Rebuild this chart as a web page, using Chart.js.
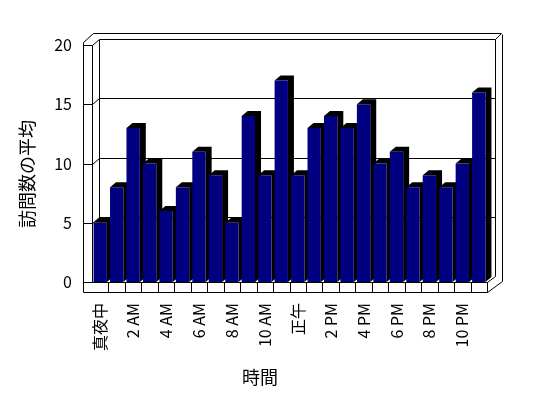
<!DOCTYPE html>
<html>
<head>
<meta charset="utf-8">
<script src="https://cdn.jsdelivr.net/npm/chart.js@4.4.1/dist/chart.umd.min.js"></script>
<style>
  html, body { margin: 0; padding: 0; background: #fff; }
  #chartContainer { width: 548px; height: 398px; }
</style>
</head>
<body>
<div id="chartContainer"><canvas id="visitsChart" width="548" height="398"></canvas></div>
<script>
const hours = [
  '真夜中', '1 AM', '2 AM', '3 AM', '4 AM', '5 AM', '6 AM', '7 AM', '8 AM', '9 AM', '10 AM', '11 AM',
  '正午', '1 PM', '2 PM', '3 PM', '4 PM', '5 PM', '6 PM', '7 PM', '8 PM', '9 PM', '10 PM', '11 PM',
];
const avgVisits = [5, 8, 13, 10, 6, 8, 11, 9, 5, 14, 9, 17, 9, 13, 14, 13, 15, 10, 11, 8, 9, 8, 10, 16];
const yTicks = [0, 5, 10, 15, 20];
const yTitle = '訪問数の平均';
const xTitle = '時間';

const FONT = '"Noto Sans CJK JP", "Noto Sans", sans-serif';

// oblique offsets for the walls and for the bar depth
const WALL_DX = 7, WALL_DY = 6;
const BAR_DX = 6, BAR_DY = 5;

const px = v => Math.round(v) + 0.5;

const line = (ctx, x1, y1, x2, y2) => {
  ctx.beginPath();
  ctx.moveTo(px(x1), px(y1));
  ctx.lineTo(px(x2), px(y2));
  ctx.stroke();
};

const frame3d = {
  id: 'frame3d',
  beforeDatasetsDraw(chart) {
    const { ctx } = chart;
    const xs = chart.scales.x;
    const ys = chart.scales.y;
    const L = xs.left, R = xs.right;
    const T = ys.getPixelForValue(yTicks[yTicks.length - 1]);
    const B = ys.getPixelForValue(yTicks[0]);
    const catW = (R - L) / hours.length;

    ctx.save();
    ctx.strokeStyle = '#000';
    ctx.lineWidth = 1;

    // left wall (front edge + inner edge)
    line(ctx, L - 9, T - 3, L - 9, B + 10);
    line(ctx, L, T, L, B);
    line(ctx, L - 9, T - 3, L + 1, T - WALL_DY - 6);
    line(ctx, L, T, L + WALL_DX, T - WALL_DY);

    // back wall inner and outer outline
    line(ctx, L + WALL_DX, T - WALL_DY, R + WALL_DX + 1, T - WALL_DY);
    line(ctx, L + WALL_DX, T - WALL_DY, L + WALL_DX, B - WALL_DY);
    line(ctx, R + WALL_DX + 1, T - WALL_DY, R + WALL_DX + 1, B - WALL_DY);
    line(ctx, L + 1, T - WALL_DY - 6, R + WALL_DX + 7, T - WALL_DY - 6);
    line(ctx, R + WALL_DX + 1, T - WALL_DY, R + WALL_DX + 7, T - WALL_DY - 6);
    line(ctx, R + WALL_DX + 8, T - WALL_DY - 5, R + WALL_DX + 8, B - 1);

    // value ticks on the left wall and gridlines on the back wall
    yTicks.forEach(v => {
      const y = ys.getPixelForValue(v);
      line(ctx, L - 9, y, L, y);
      if (v > yTicks[0] && v < yTicks[yTicks.length - 1]) {
        line(ctx, L, y, L + WALL_DX, y - WALL_DY);
        line(ctx, L + WALL_DX, y - WALL_DY, R + WALL_DX + 1, y - WALL_DY);
      }
    });

    // floor slab
    line(ctx, L - 9, B + 10, R, B + 10);
    line(ctx, L, B, R, B);
    line(ctx, R, B, R, B + 10);
    line(ctx, R, B, R + WALL_DX + 1, B - WALL_DY);
    line(ctx, R, B + 10, R + WALL_DX + 8, B - 1);
    for (let i = 1; i < hours.length; i++) {
      const x = L + i * catW;
      line(ctx, x, B, x, B + 10);
    }

    // black depth faces of the bars
    ctx.fillStyle = '#000';
    chart.getDatasetMeta(0).data.forEach(bar => {
      const { x, y, base, width } = bar.getProps(['x', 'y', 'base', 'width'], true);
      const x0 = x - width / 2;
      const x1 = x + width / 2;
      ctx.beginPath();
      ctx.moveTo(x0, y);
      ctx.lineTo(x0 + BAR_DX, y - BAR_DY);
      ctx.lineTo(x1 + BAR_DX, y - BAR_DY);
      ctx.lineTo(x1 + BAR_DX, base - BAR_DY);
      ctx.lineTo(x1, base);
      ctx.lineTo(x1, y);
      ctx.closePath();
      ctx.fill();
    });
    ctx.restore();
  },
  afterDraw(chart) {
    const { ctx } = chart;
    ctx.save();
    ctx.fillStyle = '#000';
    ctx.font = '18px ' + FONT;
    ctx.textAlign = 'center';
    ctx.textBaseline = 'middle';
    ctx.fillText(xTitle, 260, 377);
    ctx.translate(27, 174);
    ctx.rotate(-Math.PI / 2);
    ctx.fillText(yTitle, 0, 0);
    ctx.restore();
  },
};

const ctx = document.getElementById('visitsChart').getContext('2d');

new Chart(ctx, {
  type: 'bar',
  data: {
    labels: hours,
    datasets: [
      {
        label: yTitle,
        data: avgVisits,
        backgroundColor: '#000080',
        borderWidth: 0,
        barPercentage: 0.81,
        categoryPercentage: 1,
      },
    ],
  },
  options: {
    responsive: false,
    animation: false,
    devicePixelRatio: 1,
    layout: {
      padding: { left: 0, top: 45, right: 61, bottom: 0 },
    },
    plugins: {
      legend: { display: false },
      tooltip: { enabled: false },
    },
    scales: {
      x: {
        grid: { display: false, drawTicks: false },
        border: { display: false },
        ticks: {
          autoSkip: false,
          minRotation: 90,
          maxRotation: 90,
          padding: 21,
          color: '#000',
          font: { family: FONT, size: 16 },
          callback: (value, index) => (index % 2 === 0 ? hours[index] : ''),
        },
        afterFit: scale => {
          scale.height = 116;
        },
      },
      y: {
        min: 0,
        max: 20,
        grid: { display: false, drawTicks: false },
        border: { display: false },
        ticks: {
          stepSize: 5,
          padding: 20,
          color: '#000',
          font: { family: FONT, size: 16 },
        },
        afterFit: scale => {
          scale.width = 92;
        },
      },
    },
  },
  plugins: [frame3d],
});
</script>
</body>
</html>
